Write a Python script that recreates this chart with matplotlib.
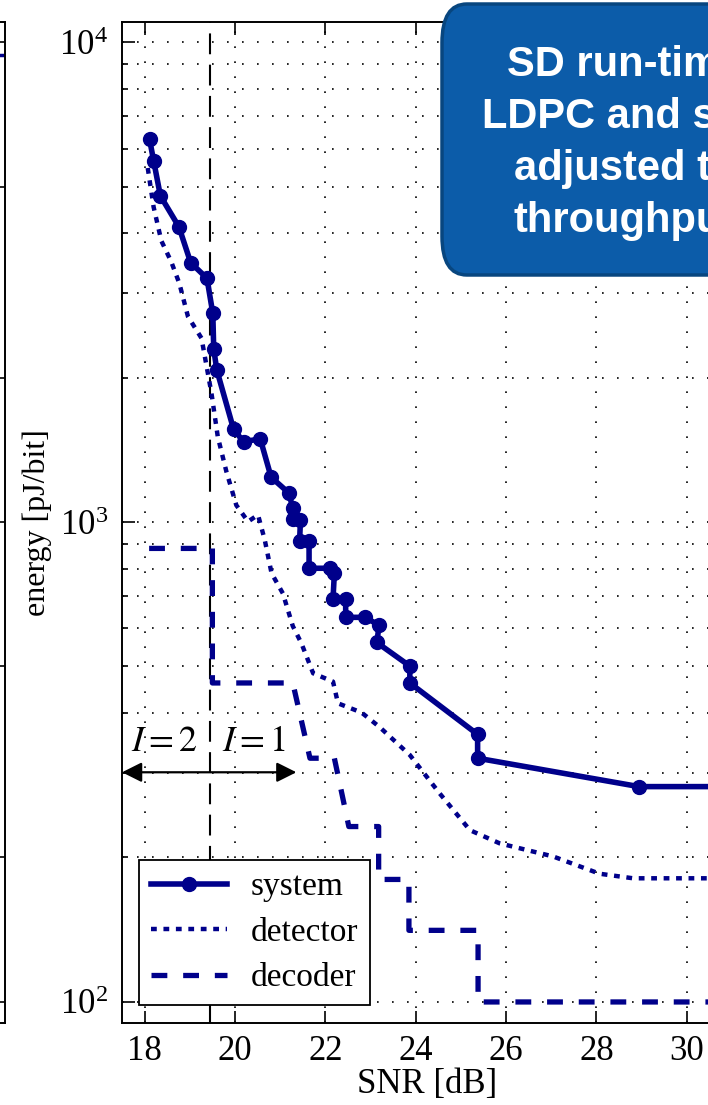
import matplotlib.pyplot as plt
from matplotlib.patches import FancyBboxPatch
from matplotlib.ticker import LogLocator, NullFormatter

plt.rcParams['font.family'] = ['Liberation Serif', 'DejaVu Serif']
plt.rcParams['mathtext.fontset'] = 'stix'

# energy per bit [pJ/bit] against SNR [dB]
system_snr = [18.11, 18.20, 18.35, 18.76, 19.02, 19.38, 19.51, 19.53, 19.60,
              19.97, 20.19, 20.56, 20.80, 21.19, 21.28, 21.28, 21.45, 21.43,
              21.64, 21.64, 22.11, 22.20, 22.17, 22.45, 22.45, 22.87, 23.19,
              23.14, 23.87, 23.87, 25.37, 25.37, 28.94, 31.5]
system_energy = [6270, 5660, 4780, 4120, 3470, 3220, 2720, 2290, 2070,
                 1560, 1470, 1490, 1240, 1150, 1070, 1015, 1010, 912,
                 912, 801, 801, 782, 692, 692, 633, 633, 610,
                 561, 501, 462, 361, 322, 281, 281]

detector_snr = [18.07, 18.20, 18.37, 18.59, 18.77, 18.96, 19.26, 19.48, 19.62,
                19.81, 20.03, 20.29, 20.51, 20.66, 20.81, 21.06, 21.28, 21.47,
                21.73, 22.17, 22.28, 22.80, 23.20, 23.87, 24.53, 25.20, 25.86,
                27.04, 28.07, 28.81, 31.5]
detector_energy = [5465, 4530, 3855, 3485, 3140, 2680, 2415, 1855, 1505,
                   1274, 1084, 1002, 1035, 917, 782, 710, 607, 559,
                   484, 465, 419, 401, 374, 327, 272, 228, 214,
                   201, 185, 181, 181]

decoder_snr = [18.10, 19.50, 19.50, 21.28, 21.66, 22.20, 22.52, 23.18, 23.18,
               23.85, 23.85, 25.38, 25.38, 31.5]
decoder_energy = [881, 881, 462, 462, 322, 322, 232, 232, 180,
                  180, 141, 141, 100, 100]

iter_switch_snr = 19.45      # I = 2 below, I = 1 above
iter_arrow = (17.5, 21.36)
iter_arrow_energy = 301

xticks = [18, 20, 22, 24, 26, 28, 30]
callout_lines = ['SD run-time', 'LDPC and soft', 'adjusted to', 'throughput']

blue = '#00008b'
W, H = 708, 1105

fig = plt.figure(figsize=(W / 100, H / 100), dpi=100)

# neighbouring panel, only its right edge shows
ax0 = fig.add_axes([-400 / W, 82 / H, 405 / W, 1001 / H])
ax0.set_yscale('log')
ax0.set_ylim(90.4, 11010)
ax0.set_xlim(0, 1)
ax0.plot([0, 1], [9400, 9400], color=blue, lw=2.5)
ax0.set_xticks([])
ax0.yaxis.set_major_locator(LogLocator(base=10, numticks=10))
ax0.yaxis.set_minor_locator(LogLocator(base=10, subs=(2, 5), numticks=10))
ax0.tick_params(axis='y', which='both', direction='in', left=False, right=True,
                labelleft=False, length=6, width=1.2)
for s in ax0.spines.values():
    s.set_linewidth(1.4)

ax = fig.add_axes([122 / W, 82 / H, 610 / W, 1001 / H])
ax.set_yscale('log')
ax.set_xlim(17.5, 31.0)
ax.set_ylim(90.4, 11010)

grid_ls = (0, (1.0, 8.0))
ax.grid(True, which='major', axis='x', color='k', ls=grid_ls, lw=1.2)
ax.grid(True, which='both', axis='y', color='k', ls=grid_ls, lw=1.2)
ax.set_axisbelow(True)

ax.axvline(iter_switch_snr, color='k', lw=1.5, dashes=(10, 5))

ax.plot(system_snr, system_energy, color=blue, lw=4.0, marker='o', ms=10,
        label='system')
ax.plot(detector_snr, detector_energy, color=blue, lw=3.2, dashes=(1.3, 1.5),
        label='detector')
ax.plot(decoder_snr, decoder_energy, color=blue, lw=3.8, dashes=(3.0, 3.0),
        label='decoder')

ax.annotate('', xy=(iter_arrow[0], iter_arrow_energy),
            xytext=(iter_arrow[1], iter_arrow_energy),
            arrowprops=dict(arrowstyle='<|-|>', color='k', lw=1.6,
                            mutation_scale=30, shrinkA=0, shrinkB=0))
ax.text(18.44, 347, r'$I = 2$', fontsize=26, ha='center', va='center')
ax.text(20.43, 347, r'$I = 1$', fontsize=26, ha='center', va='center')

ax.set_xticks(xticks)
ax.yaxis.set_major_locator(LogLocator(base=10, numticks=10))
ax.yaxis.set_minor_locator(LogLocator(base=10, subs=range(2, 10), numticks=10))
ax.yaxis.set_minor_formatter(NullFormatter())
ax.tick_params(which='both', direction='in', top=True, right=True, width=1.2)
ax.tick_params(which='major', length=9, labelsize=25)
ax.tick_params(which='minor', length=4.5)
ax.tick_params(axis='x', pad=9)
ax.tick_params(axis='y', pad=10)
for s in ax.spines.values():
    s.set_linewidth(1.4)

ax.set_xlabel('SNR [dB]', fontsize=25, labelpad=0)
ax.set_ylabel('energy [pJ/bit]', fontsize=23, labelpad=5)

leg = ax.legend(loc='lower left', bbox_to_anchor=(0.028, 0.018), borderaxespad=0,
                fontsize=24, fancybox=False, framealpha=1, edgecolor='k',
                handlelength=2.3, handletextpad=0.7, borderpad=0.35,
                labelspacing=0.45, numpoints=1)
leg.get_frame().set_linewidth(1.3)

# callout box on top of the plot
box = FancyBboxPatch((442 / W, (H - 275) / H), 350 / W, 271 / H,
                     boxstyle='round,pad=0,rounding_size=0.035',
                     transform=fig.transFigure, facecolor='#0c5ca9',
                     edgecolor='#08467f', lw=2.5, zorder=10, clip_on=False)
fig.patches.append(box)
fig.text(625 / W, (H - 143) / H, '\n'.join(callout_lines), color='white',
         fontsize=30, fontweight='bold', family='Liberation Sans',
         ha='center', va='center', linespacing=1.38, zorder=11)

fig.savefig('out.png', dpi=100)
